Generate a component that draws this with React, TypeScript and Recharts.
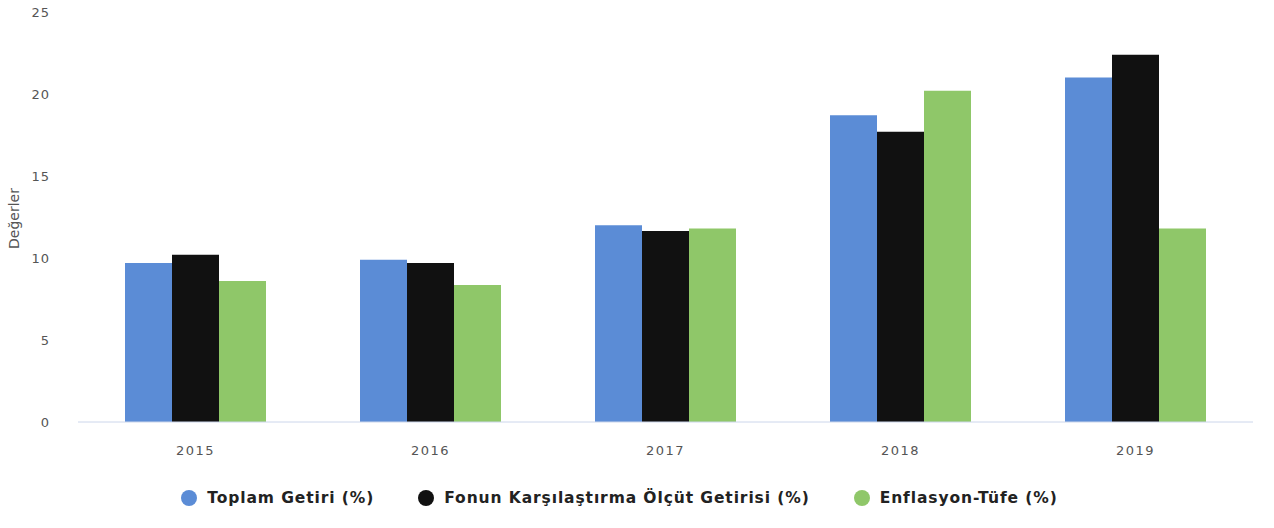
import { BarChart, Bar, XAxis, YAxis, Legend } from 'recharts';

const years = ['2015', '2016', '2017', '2018', '2019'];
const toplamGetiri = [9.7, 9.9, 12.0, 18.7, 21.0];
const olcutGetiri = [10.2, 9.7, 11.65, 17.7, 22.4];
const enflasyon = [8.6, 8.35, 11.8, 20.2, 11.8];
const yTicks = [0, 5, 10, 15, 20, 25];

const series = [
  { key: 'toplam', name: 'Toplam Getiri (%)', color: '#5b8cd6' },
  { key: 'olcut', name: 'Fonun Karşılaştırma Ölçüt Getirisi (%)', color: '#111111' },
  { key: 'enf', name: 'Enflasyon-Tüfe (%)', color: '#8fc769' },
];

const data = years.map((y, i) => ({
  year: y,
  toplam: toplamGetiri[i],
  olcut: olcutGetiri[i],
  enf: enflasyon[i],
}));

const font = '"DejaVu Sans", sans-serif';

function LegendRow() {
  return (
    <div style={{ display: 'flex', justifyContent: 'center', alignItems: 'center', gap: 44, height: 60, fontFamily: font, paddingRight: 14 }}>
      {series.map((s) => (
        <div key={s.key} style={{ display: 'flex', alignItems: 'center' }}>
          <span style={{ width: 16, height: 16, borderRadius: '50%', background: s.color, display: 'inline-block', marginRight: 10 }} />
          <span style={{ fontSize: 15.5, fontWeight: 'bold', color: '#222', letterSpacing: 0.9 }}>{s.name}</span>
        </div>
      ))}
    </div>
  );
}

export default function App() {
  return (
    <div style={{ position: 'absolute', left: 0, top: 0, background: '#fff' }}>
      <BarChart width={1274} height={528} data={data} margin={{ top: 12, right: 21, left: 0, bottom: 0 }} barGap={0} barCategoryGap="20%">
        <XAxis
          dataKey="year"
          height={46}
          axisLine={{ stroke: '#ccd6eb' }}
          tickLine={false}
          tick={{ fill: '#555', fontSize: 13, fontFamily: font, letterSpacing: 1.5 }}
          tickMargin={18}
        />
        <YAxis
          width={78}
          domain={[0, 25]}
          ticks={yTicks}
          axisLine={false}
          tickLine={false}
          tick={{ fill: '#555', fontSize: 13, fontFamily: font, letterSpacing: 1 }}
          tickMargin={22}
          label={{ value: 'Değerler', angle: -90, position: 'insideLeft', offset: 14, fill: '#555', fontSize: 14, fontFamily: font, dy: 32 }}
        />
        <Legend verticalAlign="bottom" height={60} content={() => <LegendRow />} />
        {series.map((s) => (
          <Bar key={s.key} dataKey={s.key} name={s.name} fill={s.color} isAnimationActive={false} />
        ))}
      </BarChart>
    </div>
  );
}
